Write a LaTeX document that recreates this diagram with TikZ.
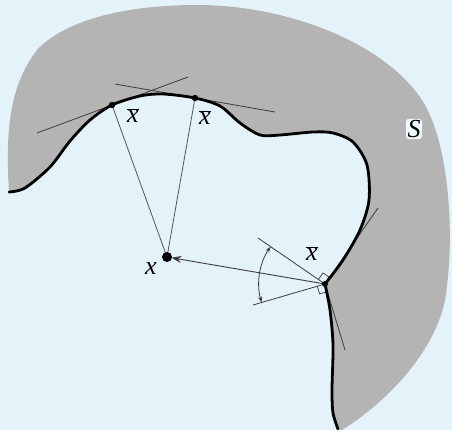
\documentclass[tikz,border=0pt]{standalone}
\usepackage{fontspec}
\setmainfont{Liberation Serif}
\usetikzlibrary{arrows.meta,calc}
\definecolor{bgblue}{RGB}{228,243,250}
\definecolor{sgray}{RGB}{180,180,181}
\definecolor{lgray}{RGB}{60,60,60}
\definecolor{mgray}{RGB}{85,85,85}
\begin{document}
\begin{tikzpicture}[x=1pt,y=-1pt,
  thickc/.style={line width=2.8pt,line cap=round,line join=round},
  thinl/.style={draw=lgray,line width=0.8pt},
  dotp/.style={fill=black},
  lbl/.style={font=\fontsize{26}{26}\selectfont\itshape,inner sep=0pt},
  angarrow/.style={draw=lgray,line width=0.8pt,{Stealth[length=6pt,width=4pt]}-{Stealth[length=6pt,width=4pt]}}
]
\fill[bgblue] (0,0) rectangle (452,430);
\useasboundingbox (0,0) rectangle (452,430);
% region S
\fill[sgray] plot[smooth] coordinates {(9,192) (25,188) (50,167) (70,141) (90,120) (112,105) (140,96) (163,94) (195,98) (220,106) (240,123) (260,135) (280,135) (313,132) (333,133) (353,142) (367,165) (369,200) (360,230) (343,260) (325,284)}
  -- plot[smooth] coordinates {(325,284) (330,310) (333,345) (332,390) (333,413) (338,429)}
  -- (340,432) -- (342,430)
  .. controls (390,400) and (435,350) .. (445,300)
  .. controls (455,240) and (450,150) .. (425,105)
  .. controls (390,45) and (290,5) .. (197,5)
  .. controls (140,5) and (70,15) .. (37,50)
  .. controls (10,85) and (5,130) .. (9,192)
  -- cycle;
% key points
\coordinate (p1) at (112,105);
\coordinate (p2) at (195,98);
\coordinate (c) at (325,284);
\coordinate (xp) at (167,257);
% tangent line ends
\coordinate (t1a) at (37,133);
\coordinate (t1b) at (188,77);
\coordinate (t2a) at (115,84);
\coordinate (t2b) at (275,112);
\coordinate (nu) at (258,238);
\coordinate (nl) at (253,305);
\coordinate (tu) at (378,208);
\coordinate (tl) at (345,350);
% tangent lines
\draw[thinl] (t1a) -- (t1b);
\draw[thinl] (t2a) -- (t2b);
\draw[thinl] (c) -- (tu);
\draw[thinl] (c) -- (tl);
% normal cone
\draw[thinl] (c) -- (nu);
\draw[thinl] (c) -- (nl);
% right angle marks
\coordinate (q1) at ($(c)!8pt!(nu)$);
\coordinate (q2) at ($(c)!8pt!(tu)$);
\draw[thinl,line width=0.7pt] (q1) -- ($(q1)+(q2)-(c)$) -- (q2);
\coordinate (r1) at ($(c)!8pt!(nl)$);
\coordinate (r2) at ($(c)!8pt!(tl)$);
\draw[thinl,line width=0.7pt] (r1) -- ($(r1)+(r2)-(c)$) -- (r2);
% angle arc
\draw[angarrow] ($(c)+(214.5:66)$) arc[start angle=214.5,end angle=163.7,radius=66];
% projection lines
\draw[draw=mgray,line width=0.8pt] (p1) -- (xp);
\draw[draw=mgray,line width=0.8pt] (p2) -- (xp);
\draw[draw=lgray,line width=0.9pt,-{Stealth[length=10pt,width=7pt]},shorten >=4.5pt] (c) -- (xp);
% boundary
\draw[thickc] plot[smooth] coordinates {(9,192) (25,188) (50,167) (70,141) (90,120) (112,105) (140,96) (163,94) (195,98) (220,106) (240,123) (260,135) (280,135) (313,132) (333,133) (353,142) (367,165) (369,200) (360,230) (343,260) (325,284)};
\draw[thickc] plot[smooth] coordinates {(325,284) (330,310) (333,345) (332,390) (333,413) (338,429)};
% dots
\fill[dotp] (p1) circle[radius=3.2];
\fill[dotp] (p2) circle[radius=3.2];
\fill[dotp] (c) circle[radius=3];
\fill[dotp] (xp) circle[radius=5];
% labels
\node[lbl] (l1) at (133,116) {$\overline{\hbox{\itshape x}}$};
\node[lbl] (l2) at (205,118) {$\overline{\hbox{\itshape x}}$};
\node[lbl] (l3) at (312,254) {$\overline{\hbox{\itshape x}}$};
\node[lbl] (lx) at (151,269) {x};
\node[lbl,fill=bgblue!60!white,rounded corners=3pt,inner sep=1.5pt] (ls) at (414,129) {S};
\end{tikzpicture}
\end{document}
